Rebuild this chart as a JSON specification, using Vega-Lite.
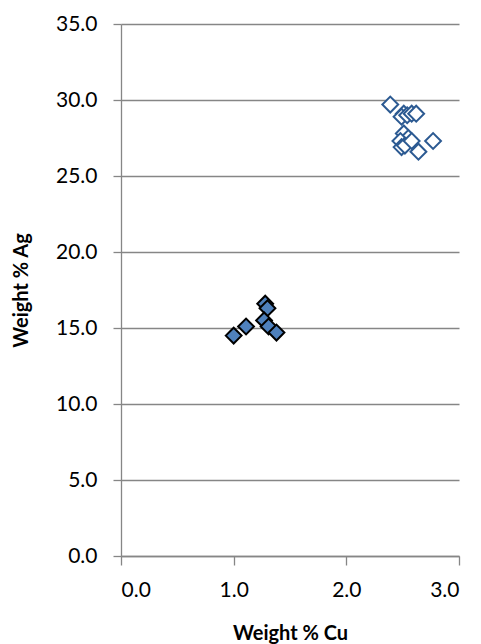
{
  "$schema": "https://vega.github.io/schema/vega-lite/v6.json",
  "autosize": "none",
  "width": 338,
  "height": 532,
  "padding": {"left": 121, "top": 24, "right": 22, "bottom": 88},
  "background": "white",
  "config": {
    "view": {"stroke": null},
    "font": "Lato"
  },
  "data": {
    "values": [
      {"cu": 2.39, "ag": 29.7, "group": "B"},
      {"cu": 2.51, "ag": 29.1, "group": "B"},
      {"cu": 2.49, "ag": 28.9, "group": "B"},
      {"cu": 2.54, "ag": 29.0, "group": "B"},
      {"cu": 2.58, "ag": 29.1, "group": "B"},
      {"cu": 2.62, "ag": 29.1, "group": "B"},
      {"cu": 2.51, "ag": 27.8, "group": "B"},
      {"cu": 2.55, "ag": 27.5, "group": "B"},
      {"cu": 2.48, "ag": 27.3, "group": "B"},
      {"cu": 2.49, "ag": 26.9, "group": "B"},
      {"cu": 2.52, "ag": 27.0, "group": "B"},
      {"cu": 2.58, "ag": 27.3, "group": "B"},
      {"cu": 2.64, "ag": 26.6, "group": "B"},
      {"cu": 2.77, "ag": 27.3, "group": "B"},
      {"cu": 1.00, "ag": 14.5, "group": "A"},
      {"cu": 1.11, "ag": 15.1, "group": "A"},
      {"cu": 1.28, "ag": 16.6, "group": "A"},
      {"cu": 1.30, "ag": 16.3, "group": "A"},
      {"cu": 1.27, "ag": 15.5, "group": "A"},
      {"cu": 1.31, "ag": 15.1, "group": "A"},
      {"cu": 1.38, "ag": 14.7, "group": "A"}
    ]
  },
  "mark": {"type": "point", "shape": "diamond", "size": 250, "filled": false, "strokeWidth": 2, "opacity": 1},
  "encoding": {
    "x": {
      "field": "cu", "type": "quantitative",
      "scale": {"domain": [0, 3], "nice": false, "zero": true},
      "axis": {
        "title": "Weight % Cu",
        "values": [0, 1, 2, 3],
        "format": ".1f",
        "grid": false,
        "domainColor": "#868686", "domainWidth": 1.3,
        "tickColor": "#868686", "tickSize": 9, "tickWidth": 1.3,
        "labelFontSize": 21, "labelColor": "#000000", "labelPadding": 14,
        "titleFontSize": 20, "titleFontWeight": "bold", "titleColor": "#000000",
        "titleY": 77, "titleBaseline": "middle"
      }
    },
    "y": {
      "field": "ag", "type": "quantitative",
      "scale": {"domain": [0, 35], "nice": false},
      "axis": {
        "title": "Weight % Ag",
        "values": [0, 5, 10, 15, 20, 25, 30, 35],
        "format": ".1f",
        "grid": true, "gridColor": "#868686", "gridWidth": 1.3,
        "domainColor": "#868686", "domainWidth": 1.3,
        "tickColor": "#868686", "tickSize": 8, "tickWidth": 1.3,
        "labelFontSize": 21, "labelColor": "#000000", "labelPadding": 16,
        "titleFontSize": 20, "titleFontWeight": "bold", "titleColor": "#000000",
        "titleX": -100, "titleY": 266, "titleAngle": -90, "titleAlign": "center", "titleBaseline": "middle"
      }
    },
    "fill": {
      "field": "group", "type": "nominal",
      "scale": {"domain": ["A", "B"], "range": ["#4F81BD", "#FFFFFF"]},
      "legend": null
    },
    "stroke": {
      "field": "group", "type": "nominal",
      "scale": {"domain": ["A", "B"], "range": ["#000000", "#2C5A92"]},
      "legend": null
    }
  }
}
